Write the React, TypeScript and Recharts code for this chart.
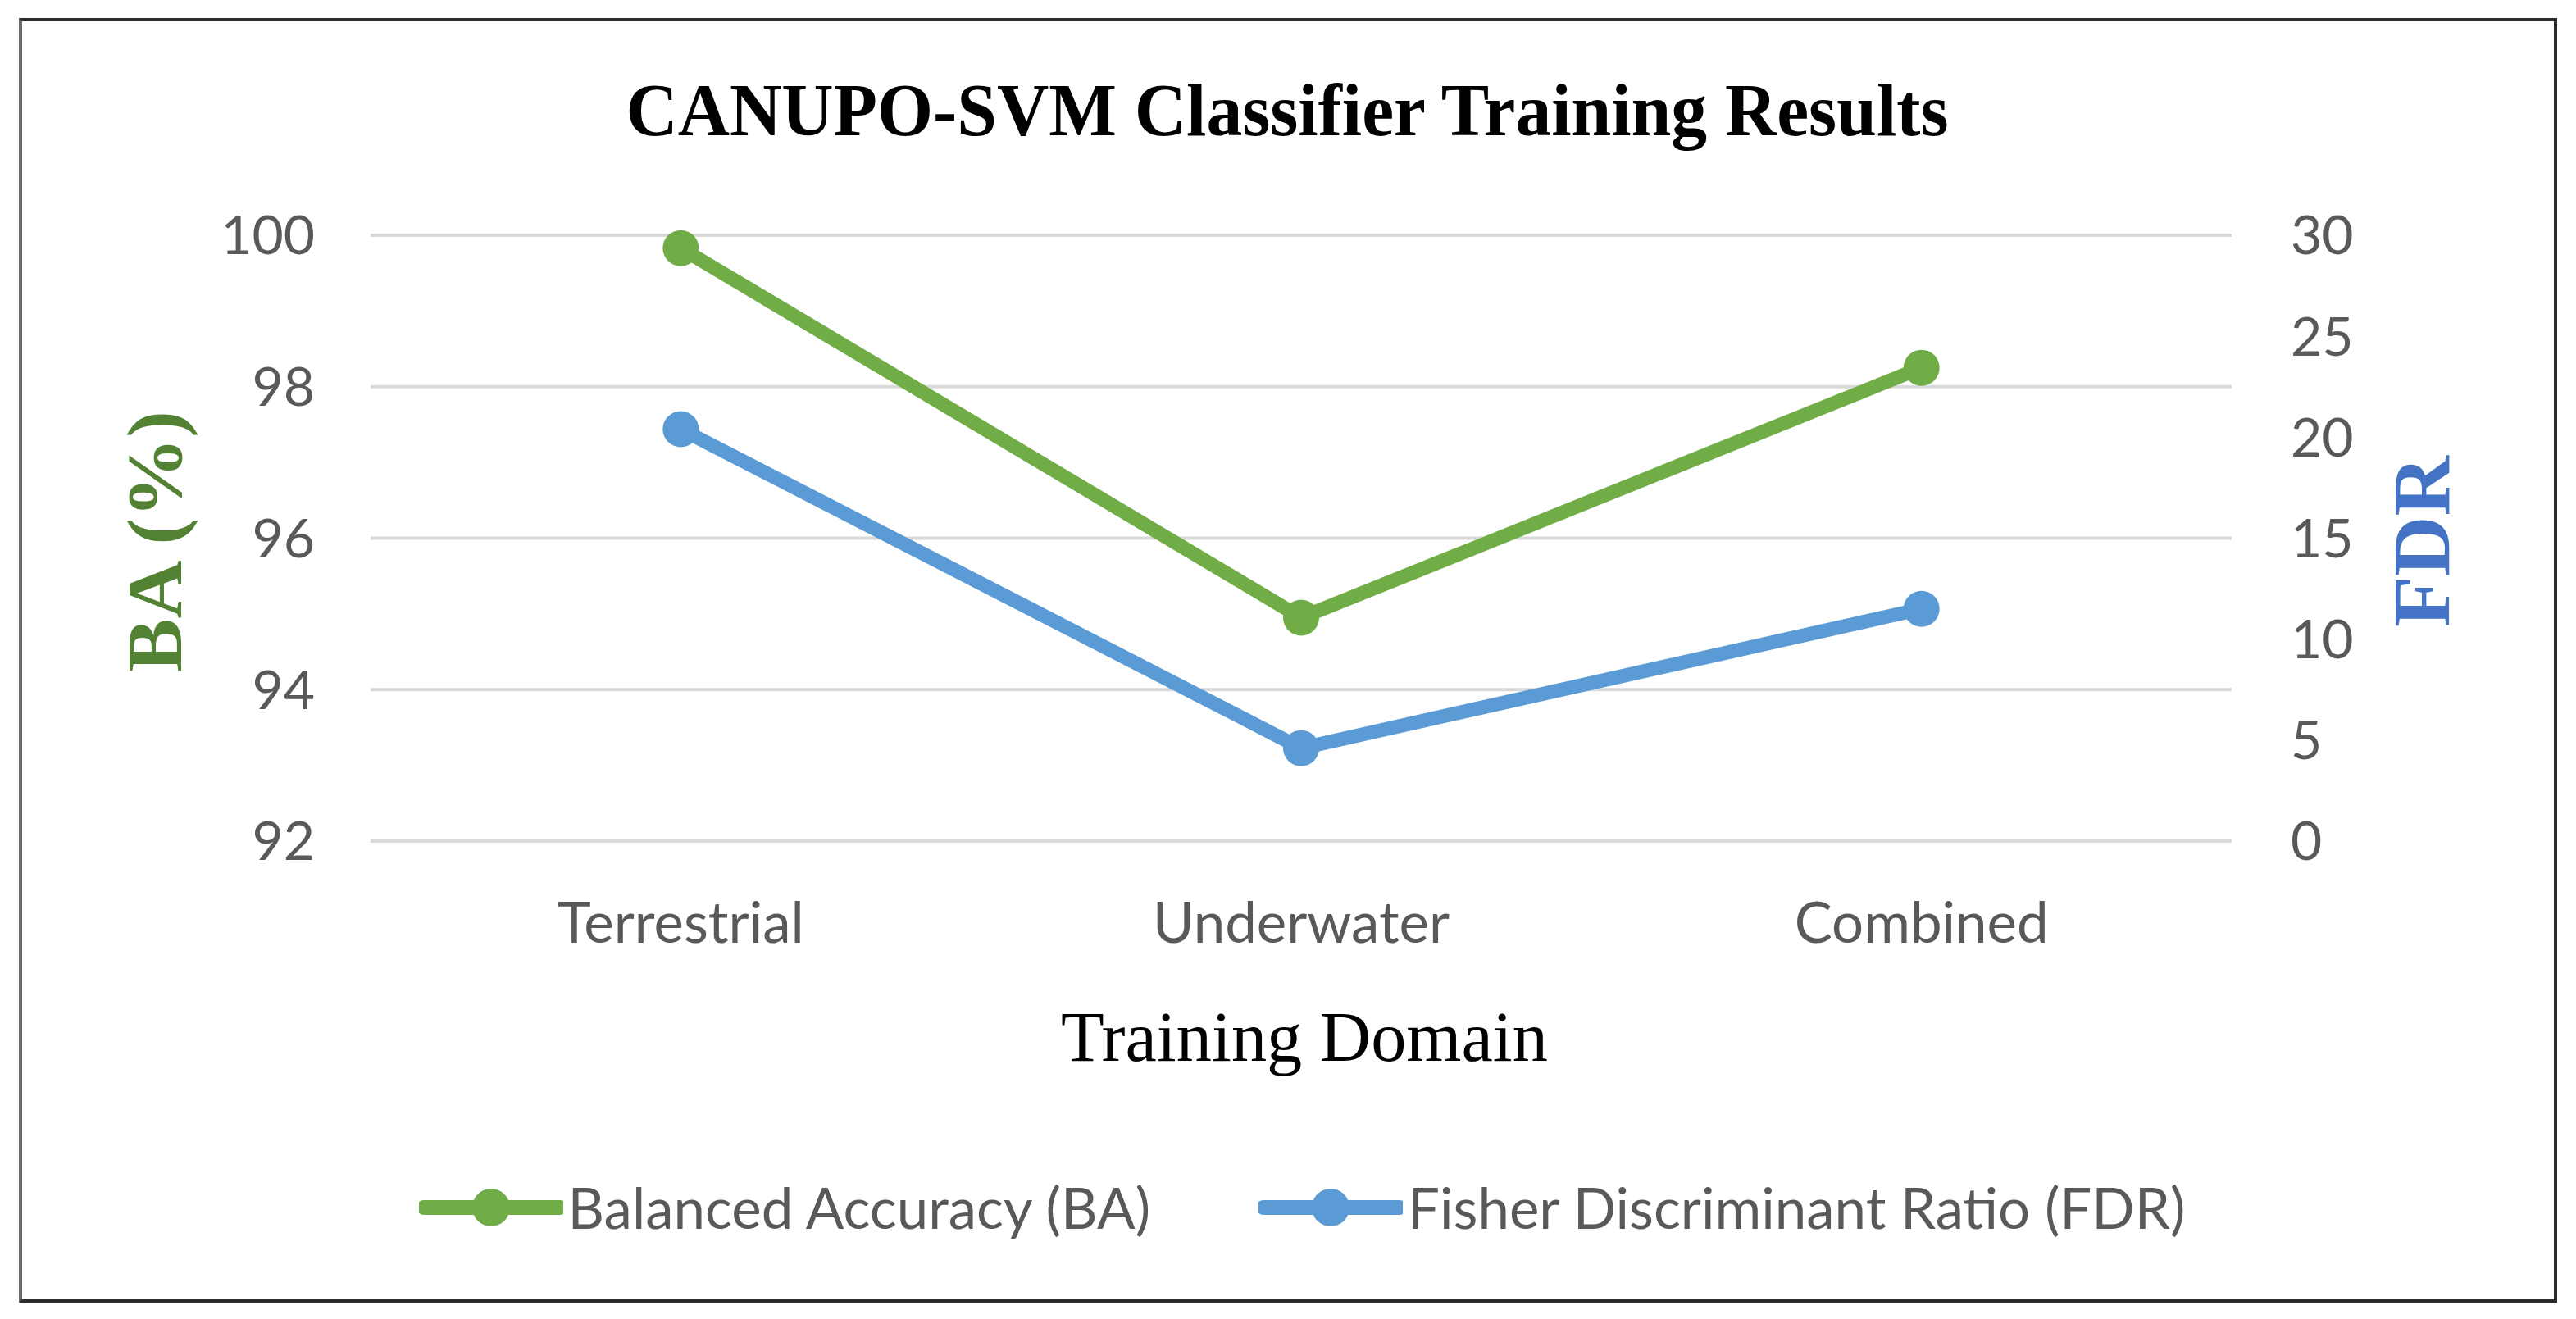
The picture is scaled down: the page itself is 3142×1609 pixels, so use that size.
import { CartesianGrid, Label, Legend, Line, LineChart, XAxis, YAxis } from "recharts";

const domains = ["Terrestrial", "Underwater", "Combined"];
const baValues = [99.83, 94.95, 98.25];
const fdrValues = [20.4, 4.6, 11.5];
const baTicks = [92, 94, 96, 98, 100];
const fdrTicks = [0, 5, 10, 15, 20, 25, 30];

const data = domains.map((domain, i) => ({ domain, ba: baValues[i], fdr: fdrValues[i] }));

const SANS = "Lato, 'Open Sans', sans-serif";
const SERIF = "'Liberation Serif', 'Times New Roman', serif";
const GREEN = "#70ad47";
const BLUE = "#5b9bd5";
const TICK = "#595959";

function VerticalTitle({ viewBox, text, fill, dx, size, length }: any) {
  const x = viewBox.x + dx;
  const y = viewBox.y + viewBox.height / 2 + 4;
  return (
    <text
      x={x}
      y={y}
      transform={`rotate(-90 ${x} ${y})`}
      textAnchor="middle"
      dominantBaseline="central"
      fontFamily={SERIF}
      fontWeight="bold"
      fontSize={size}
      fill={fill}
      textLength={length}
      lengthAdjust="spacingAndGlyphs"
    >
      {text}
    </text>
  );
}

function DomainTitle({ viewBox }: any) {
  return (
    <text
      x={viewBox.x + viewBox.width / 2 + 4}
      y={viewBox.y + 268}
      textAnchor="middle"
      fontFamily={SERIF}
      fontSize={86}
      fill="#000"
      textLength={594}
      lengthAdjust="spacingAndGlyphs"
    >
      Training Domain
    </text>
  );
}

function LegendRow({ payload }: any) {
  return (
    <div
      style={{ display: "flex", justifyContent: "center", alignItems: "center", gap: 132, height: 90, paddingLeft: 34 }}
    >
      {(payload || []).map((item: any) => (
        <div key={item.value} style={{ display: "flex", alignItems: "center" }}>
          <svg width={176} height={50}>
            <line x1={6} y1={25} x2={172} y2={25} stroke={item.color} strokeWidth={18} strokeLinecap="round" />
            <circle cx={88} cy={25} r={23} fill={item.color} />
          </svg>
          <span style={{ fontFamily: SANS, fontSize: 69, color: TICK, marginLeft: 6, lineHeight: "90px" }}>{item.value}</span>
        </div>
      ))}
    </div>
  );
}

export default function App() {
  return (
    <div style={{ position: "absolute", left: 0, top: 0, width: 3142, height: 1609, background: "#fff" }}>
      <div
        style={{
          position: "absolute",
          left: 23,
          top: 22,
          width: 3096,
          height: 1567,
          boxSizing: "border-box",
          border: "4px solid #2b2b2b",
          borderLeftColor: "#6a6a6a",
        }}
      />
      <svg style={{ position: "absolute", left: 0, top: 0 }} width={3142} height={260}>
        <text
          x={1570}
          y={165}
          textAnchor="middle"
          fontFamily={SERIF}
          fontWeight="bold"
          fontSize={92}
          fill="#000"
          textLength={1613}
          lengthAdjust="spacingAndGlyphs"
        >
          CANUPO-SVM Classifier Training Results
        </text>
      </svg>
      <div style={{ position: "absolute", left: 0, top: 0 }}>
        <LineChart width={3142} height={1609} data={data} margin={{ top: 287, right: 20, bottom: 483, left: 24 }}>
          <CartesianGrid yAxisId="left" vertical={false} stroke="#d9d9d9" strokeWidth={4} />
          <XAxis
            dataKey="domain"
            scale="band"
            height={100}
            axisLine={false}
            tickLine={false}
            tickSize={0}
            tickMargin={75}
            tick={{ fontFamily: SANS, fontSize: 69, fill: TICK }}
          >
            <Label content={<DomainTitle />} />
          </XAxis>
          <YAxis
            yAxisId="left"
            width={428}
            domain={[92, 100]}
            ticks={baTicks}
            axisLine={false}
            tickLine={false}
            tickSize={0}
            tickMargin={68}
            tick={{ fontFamily: SANS, fontSize: 66, fill: TICK }}
          >
            <Label content={<VerticalTitle text="BA (%)" fill="#548235" dx={164} size={96} length={319} />} />
          </YAxis>
          <YAxis
            yAxisId="right"
            orientation="right"
            width={400}
            domain={[0, 30]}
            ticks={fdrTicks}
            axisLine={false}
            tickLine={false}
            tickSize={0}
            tickMargin={72}
            tick={{ fontFamily: SANS, fontSize: 66, fill: TICK, textAnchor: "start" }}
          >
            <Label content={<VerticalTitle text="FDR" fill="#4472c4" dx={231} size={100} length={209} />} />
          </YAxis>
          <Legend
            layout="horizontal"
            verticalAlign="middle"
            align="center"
            wrapperStyle={{ top: 1428, left: 0, width: 3142 }}
            content={<LegendRow />}
          />
          <Line
            yAxisId="left"
            type="linear"
            dataKey="ba"
            name="Balanced Accuracy (BA)"
            stroke={GREEN}
            strokeWidth={17}
            dot={{ r: 22, fill: GREEN, stroke: GREEN, strokeWidth: 0 }}
            activeDot={false}
            isAnimationActive={false}
          />
          <Line
            yAxisId="right"
            type="linear"
            dataKey="fdr"
            name="Fisher Discriminant Ratio (FDR)"
            stroke={BLUE}
            strokeWidth={17}
            dot={{ r: 22, fill: BLUE, stroke: BLUE, strokeWidth: 0 }}
            activeDot={false}
            isAnimationActive={false}
          />
        </LineChart>
      </div>
    </div>
  );
}
